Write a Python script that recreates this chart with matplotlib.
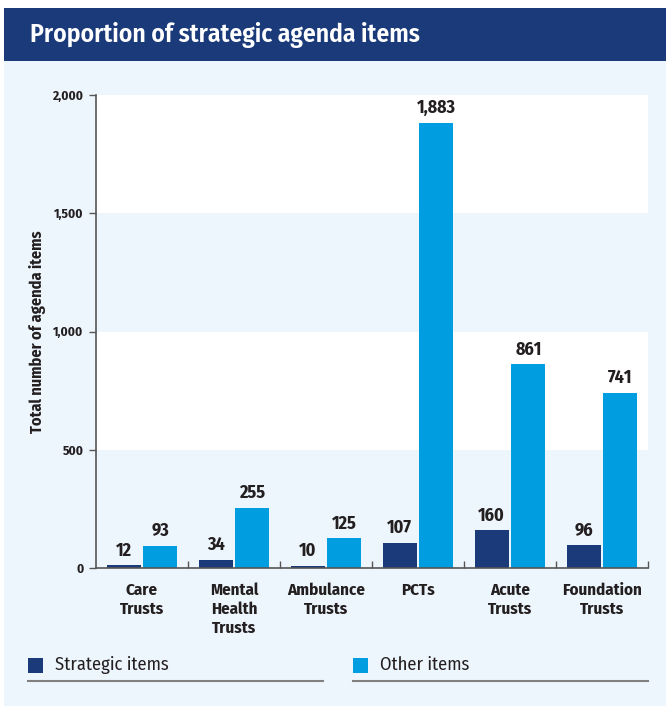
import matplotlib
matplotlib.use("Agg")
import matplotlib.pyplot as plt
from matplotlib.patches import Rectangle
import numpy as np

categories = ["Care\nTrusts", "Mental\nHealth\nTrusts", "Ambulance\nTrusts", "PCTs", "Acute\nTrusts", "Foundation\nTrusts"]
strategic = [12, 34, 10, 107, 160, 96]
other = [93, 255, 125, 1883, 861, 741]
yticks = [0, 500, 1000, 1500, 2000]
ytick_labels = ["0", "500", "1,000", "1,500", "2,000"]

NAVY = "#1b3a7a"
CYAN = "#009ee0"
BG = "#eef6fd"
TXT = "#231f20"

plt.rcParams['font.family'] = ['Fira Sans Condensed', 'DejaVu Sans']

W, H = 666, 710
fig = plt.figure(figsize=(W/100, H/100), dpi=100)
fig.patch.set_facecolor("white")

def fx(x): return x / W
def fy(y): return 1 - y / H

# panel background
fig.patches.append(Rectangle((fx(4), fy(706)), fx(662), (706-61)/H, transform=fig.transFigure,
                             facecolor=BG, edgecolor="none", zorder=-2))
# header band
fig.patches.append(Rectangle((fx(4), fy(61)), fx(662), (61-8)/H, transform=fig.transFigure,
                             facecolor=NAVY, edgecolor="none", zorder=-2))
fig.text(fx(30), fy(35), "Proportion of strategic agenda items", color="white",
         fontsize=18.4, fontweight="semibold", va="center", ha="left")

ax = fig.add_axes([fx(96), fy(568), fx(648) - fx(96), (568-95)/H])
ax.set_zorder(1)
ax.set_facecolor(BG)
ax.axhspan(1500, 2000, color="white", zorder=0, lw=0)
ax.axhspan(500, 1000, color="white", zorder=0, lw=0)

x = np.arange(len(categories)) + 0.5
w = 0.37
b1 = ax.bar(x - 0.2, strategic, w, color=NAVY, zorder=2)
b2 = ax.bar(x + 0.2, other, w, color=CYAN, zorder=2)
for bars, vals in ((b1, strategic), (b2, other)):
    for r, v in zip(bars, vals):
        ax.text(r.get_x() + r.get_width()/2, v + 25, f"{v:,}", ha="center", va="bottom",
                fontsize=13, fontweight="bold", color=TXT)

ax.set_xlim(0, len(categories))
ax.set_ylim(0, 2000)
ax.set_yticks(yticks)
ax.set_yticklabels(ytick_labels, fontsize=9.5, fontweight="bold", color=TXT)
ax.tick_params(axis="y", direction="out", length=5, width=1, color="#555555", pad=4)
ax.set_xticks(np.arange(1, len(categories) + 1))
ax.set_xticklabels([])
ax.tick_params(axis="x", direction="in", length=5, width=1, color="#555555")
for xi, lab in zip(x, categories):
    ax.text(xi, -60, lab, ha="center", va="top", fontsize=12.2, fontweight="bold",
            color=TXT, linespacing=1.25)
for s in ("top", "right"):
    ax.spines[s].set_visible(False)
for s in ("left", "bottom"):
    ax.spines[s].set_color("#555555")
    ax.spines[s].set_linewidth(1.2)
fig.text(fx(38), fy(332), "Total number of agenda items", rotation=90, ha="center", va="center",
         fontsize=11.7, fontweight="bold", color=TXT)

# legend
for (x0, x1, col, lab) in ((28, 323, NAVY, "Strategic items"), (353, 648, CYAN, "Other items")):
    fig.patches.append(Rectangle((fx(x0), fy(673)), fx(15), 15/H, transform=fig.transFigure,
                                 facecolor=col, edgecolor="none"))
    fig.text(fx(x0 + 27), fy(665), lab, fontsize=13.3, color=TXT, va="center", ha="left",
             fontweight="normal")
    fig.add_artist(plt.Line2D([fx(x0), fx(x1)], [fy(681), fy(681)], color="#808080", lw=1.5))

fig.savefig("out.png", dpi=100, facecolor=fig.get_facecolor())
